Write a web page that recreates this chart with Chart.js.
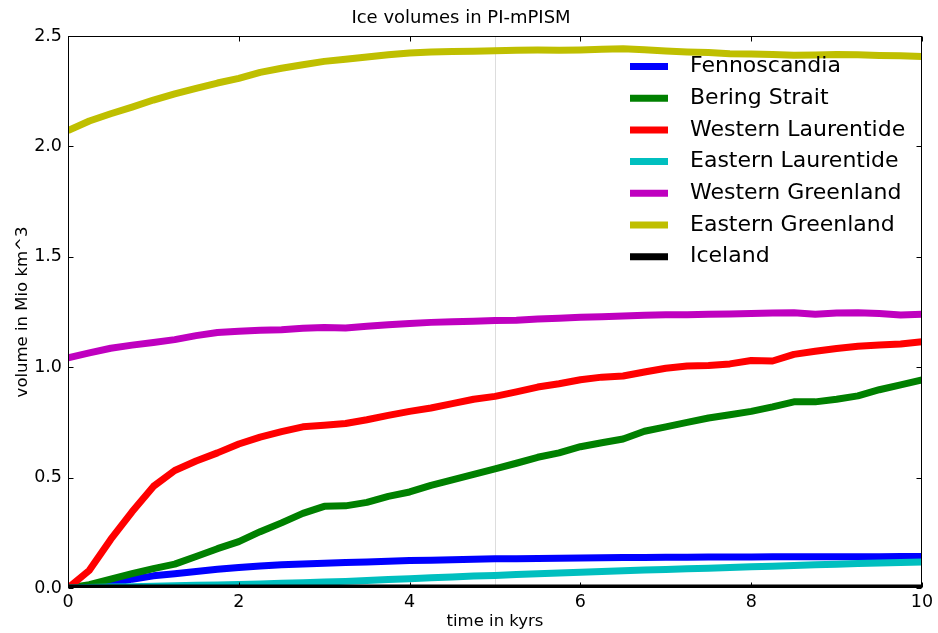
<!DOCTYPE html>
<html>
<head>
<meta charset="utf-8">
<script src="https://cdn.jsdelivr.net/npm/chart.js@4.4.1/dist/chart.umd.min.js"></script>
<style>
  html, body { margin: 0; padding: 0; background: #fff; }
</style>
</head>
<body>
<canvas id="chart" width="938" height="633"></canvas>
<script>
// time axis (kyrs)
var time = [0, 0.25, 0.5, 0.75, 1, 1.25, 1.5, 1.75, 2, 2.25, 2.5, 2.75, 3, 3.25, 3.5, 3.75, 4, 4.25, 4.5, 4.75,
            5, 5.25, 5.5, 5.75, 6, 6.25, 6.5, 6.75, 7, 7.25, 7.5, 7.75, 8, 8.25, 8.5, 8.75, 9, 9.25, 9.5, 9.75, 10];

// ice volumes in Mio km^3
var fennoscandia = [0, 0.005, 0.02, 0.04, 0.055, 0.065, 0.075, 0.085, 0.093, 0.1, 0.105, 0.109, 0.112, 0.115, 0.118, 0.121,
                    0.124, 0.126, 0.128, 0.13, 0.132, 0.133, 0.134, 0.135, 0.136, 0.137, 0.138, 0.138, 0.139, 0.139, 0.14,
                    0.14, 0.14, 0.141, 0.141, 0.141, 0.142, 0.142, 0.142, 0.143, 0.143];
var beringStrait = [0, 0.015, 0.04, 0.065, 0.088, 0.108, 0.143, 0.178, 0.21, 0.255, 0.295, 0.338, 0.37, 0.372, 0.388, 0.415,
                    0.435, 0.465, 0.49, 0.515, 0.54, 0.565, 0.592, 0.612, 0.64, 0.658, 0.675, 0.71, 0.73, 0.75, 0.77,
                    0.785, 0.8, 0.82, 0.843, 0.843, 0.855, 0.87, 0.898, 0.92, 0.942];
var westLaurentide = [0, 0.08, 0.22, 0.345, 0.46, 0.532, 0.575, 0.612, 0.652, 0.683, 0.708, 0.73, 0.737, 0.745, 0.762, 0.782,
                      0.8, 0.815, 0.835, 0.855, 0.868, 0.888, 0.91, 0.925, 0.943, 0.955, 0.96, 0.978, 0.995, 1.005, 1.008,
                      1.015, 1.03, 1.028, 1.058, 1.072, 1.085, 1.095, 1.1, 1.105, 1.115];
var eastLaurentide = [0, 0.002, 0.004, 0.006, 0.008, 0.01, 0.012, 0.014, 0.016, 0.018, 0.021, 0.024, 0.027, 0.03, 0.034, 0.038,
                      0.042, 0.046, 0.05, 0.054, 0.057, 0.061, 0.064, 0.068, 0.071, 0.075, 0.078, 0.081, 0.084, 0.087, 0.09,
                      0.093, 0.096, 0.099, 0.102, 0.105, 0.108, 0.111, 0.113, 0.116, 0.118];
var westGreenland = [1.042, 1.065, 1.086, 1.1, 1.112, 1.125, 1.143, 1.157, 1.163, 1.167, 1.17, 1.176, 1.18, 1.178, 1.185, 1.192,
                     1.198, 1.203, 1.206, 1.208, 1.211, 1.213, 1.218, 1.222, 1.226, 1.229, 1.232, 1.235, 1.237, 1.238, 1.24,
                     1.241, 1.243, 1.245, 1.247, 1.24, 1.245, 1.247, 1.243, 1.236, 1.24];
var eastGreenland = [2.072, 2.115, 2.148, 2.178, 2.21, 2.238, 2.263, 2.287, 2.308, 2.335, 2.354, 2.37, 2.385, 2.395, 2.405, 2.415,
                     2.423, 2.428, 2.43, 2.431, 2.433, 2.436, 2.437, 2.436, 2.437, 2.44, 2.442, 2.438, 2.432, 2.428, 2.425,
                     2.42, 2.418, 2.416, 2.413, 2.414, 2.416, 2.415, 2.412, 2.41, 2.407];
var iceland = [0, 0, 0, 0, 0, 0, 0, 0, 0, 0, 0, 0, 0, 0, 0, 0, 0, 0, 0, 0,
               0, 0, 0, 0, 0, 0, 0, 0, 0, 0, 0, 0, 0, 0, 0, 0, 0, 0, 0, 0, 0];

var regions = ['Fennoscandia', 'Bering Strait', 'Western Laurentide', 'Eastern Laurentide',
               'Western Greenland', 'Eastern Greenland', 'Iceland'];
var series = [fennoscandia, beringStrait, westLaurentide, eastLaurentide, westGreenland, eastGreenland, iceland];
var colors = ['#0000ff', '#008000', '#ff0000', '#00bfbf', '#bf00bf', '#bfbf00', '#000000'];

var FONT = '"DejaVu Sans", sans-serif';

function points(vals) {
  return vals.map(function (v, i) { return { x: time[i], y: v }; });
}

// matplotlib-ish frame, inward ticks on all sides, faint line at 5 kyrs, legend inside the axes
var mplAxes = {
  id: 'mplAxes',
  beforeDatasetsDraw: function (chart) {
    var ctx = chart.ctx, a = chart.chartArea;
    var px = Math.round(chart.scales.x.getPixelForValue(5)) + 0.5;
    ctx.save();
    ctx.strokeStyle = '#dddddd';
    ctx.lineWidth = 1;
    ctx.beginPath();
    ctx.moveTo(px, a.top);
    ctx.lineTo(px, a.bottom);
    ctx.stroke();
    ctx.restore();
  },
  afterDatasetsDraw: function (chart) {
    var ctx = chart.ctx, a = chart.chartArea;
    var xs = chart.scales.x, ys = chart.scales.y;
    var L = Math.round(a.left) + 0.5, R = Math.round(a.right) - 0.5;
    var T = Math.round(a.top) + 0.5, B = Math.round(a.bottom) - 0.5;
    ctx.save();
    ctx.strokeStyle = '#000';
    ctx.lineWidth = 1;
    ctx.strokeRect(L, T, R - L, B - T);
    ctx.beginPath();
    xs.ticks.forEach(function (t) {
      var x = Math.round(xs.getPixelForValue(t.value)) + 0.5;
      ctx.moveTo(x, B); ctx.lineTo(x, B - 5);
      ctx.moveTo(x, T); ctx.lineTo(x, T + 5);
    });
    ys.ticks.forEach(function (t) {
      var y = Math.round(ys.getPixelForValue(t.value)) + 0.5;
      ctx.moveTo(L, y); ctx.lineTo(L + 5, y);
      ctx.moveTo(R, y); ctx.lineTo(R - 5, y);
    });
    ctx.stroke();
    ctx.restore();
  },
  afterDraw: function (chart) {
    var ctx = chart.ctx, a = chart.chartArea;
    ctx.save();
    ctx.font = '22px ' + FONT;
    ctx.textBaseline = 'middle';
    ctx.textAlign = 'left';
    chart.data.datasets.forEach(function (ds, i) {
      var y = a.top + 30.5 + i * 31.7;
      ctx.strokeStyle = ds.borderColor;
      ctx.lineWidth = 7;
      ctx.beginPath();
      ctx.moveTo(a.right - 292, y);
      ctx.lineTo(a.right - 254, y);
      ctx.stroke();
      ctx.fillStyle = '#000';
      ctx.fillText(ds.label, a.right - 232, y);
    });
    ctx.restore();
  }
};

var datasets = regions.map(function (name, i) {
  return {
    label: name,
    data: points(series[i]),
    borderColor: colors[i],
    backgroundColor: colors[i],
    borderWidth: 7,
    borderJoinStyle: 'round',
    pointRadius: 0,
    tension: 0,
    fill: false,
    clip: 0,
    order: regions.length - i
  };
});

new Chart(document.getElementById('chart'), {
  type: 'line',
  data: { datasets: datasets },
  options: {
    responsive: false,
    animation: false,
    layout: { padding: { left: 0, right: 16, top: 0, bottom: 0 } },
    plugins: {
      legend: { display: false },
      tooltip: { enabled: false },
      title: {
        display: true,
        text: 'Ice volumes in PI-mPISM',
        color: '#000',
        font: { family: FONT, size: 18, weight: 'normal' },
        padding: { top: 8, bottom: 6.4 }
      }
    },
    scales: {
      x: {
        type: 'linear',
        min: 0,
        max: 10,
        afterFit: function (s) { s.height = 45; },
        grid: { display: false, drawTicks: false },
        border: { display: false },
        ticks: {
          stepSize: 2,
          autoSkip: false,
          maxRotation: 0,
          padding: 4,
          color: '#000',
          font: { family: FONT, size: 17.5 },
          callback: function (v) { return String(v); }
        },
        title: {
          display: true,
          text: 'time in kyrs',
          color: '#000',
          font: { family: FONT, size: 16.5 },
          padding: { top: 0, bottom: 1 }
        }
      },
      y: {
        min: 0,
        max: 2.5,
        afterFit: function (s) { s.width = 68; },
        grid: { display: false, drawTicks: false },
        border: { display: false },
        ticks: {
          stepSize: 0.5,
          autoSkip: false,
          padding: 6,
          color: '#000',
          font: { family: FONT, size: 17.5 },
          callback: function (v) { return v.toFixed(1); }
        },
        title: {
          display: true,
          text: 'volume in Mio km^3',
          color: '#000',
          font: { family: FONT, size: 16.5 },
          padding: { top: 13, bottom: 0 }
        }
      }
    }
  },
  plugins: [mplAxes]
});
</script>
</body>
</html>
